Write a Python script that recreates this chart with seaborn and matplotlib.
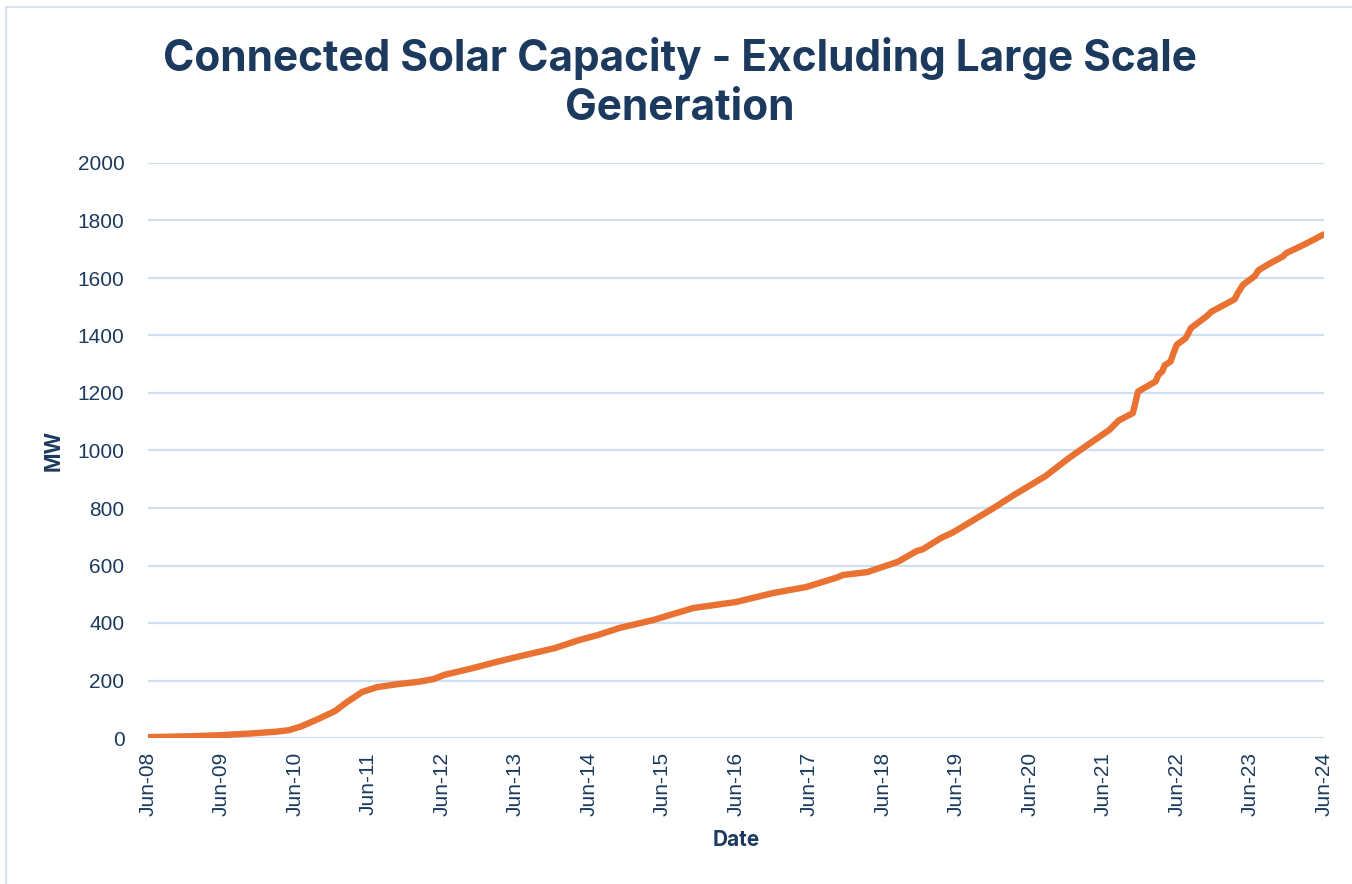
import matplotlib
matplotlib.use("Agg")
import matplotlib.pyplot as plt
import matplotlib.dates as mdates
from matplotlib.patches import Rectangle
import pandas as pd
import seaborn as sns

# Connected solar capacity (MW), excluding large scale generation
dates = [
    "2008-06-01", "2009-01-01", "2009-06-01", "2009-11-01", "2010-03-01",
    "2010-05-01", "2010-07-01", "2010-09-15", "2010-12-01", "2010-12-20",
    "2011-02-15", "2011-05-01", "2011-07-15", "2011-11-01", "2012-02-01",
    "2012-04-20", "2012-06-15", "2012-11-01", "2013-03-01", "2013-06-15",
    "2013-12-15", "2014-04-15", "2014-07-15", "2014-11-01", "2015-04-15",
    "2015-11-01", "2016-06-01", "2016-12-01", "2017-05-15", "2017-10-15",
    "2017-11-15", "2018-03-15", "2018-08-15", "2018-11-15", "2018-12-15",
    "2019-03-15", "2019-05-15", "2019-12-01", "2020-03-15", "2020-08-15",
    "2020-12-10", "2021-01-15", "2021-07-01", "2021-08-15", "2021-10-25",
    "2021-11-20", "2022-02-15", "2022-03-01", "2022-03-20", "2022-04-01",
    "2022-05-01", "2022-05-15", "2022-06-01", "2022-07-15", "2022-08-10",
    "2022-10-25", "2022-11-20", "2023-03-15", "2023-03-30", "2023-04-25",
    "2023-06-25", "2023-07-10", "2023-08-25", "2023-11-10", "2023-11-25",
    "2024-02-20", "2024-06-01",
]
capacity_mw = [
    3, 6, 10, 16, 22,
    27, 40, 63, 88, 95,
    125, 160, 177, 188, 195,
    205, 220, 243, 265, 283,
    313, 341, 358, 383, 410,
    452, 473, 504, 525, 558,
    567, 577, 613, 650, 656,
    695, 715, 799, 846, 910,
    973, 991, 1072, 1104, 1130,
    1205, 1240, 1263, 1275, 1296,
    1310, 1339, 1368, 1391, 1426,
    1466, 1483, 1526, 1547, 1576,
    1608, 1626, 1646, 1675, 1686,
    1715, 1752,
]
tick_years = list(range(2008, 2025))
y_ticks = list(range(0, 2001, 200))

title_text = "Connected Solar Capacity - Excluding Large Scale\nGeneration"
x_label = "Date"
y_label = "MW"

navy = "#1B3A5E"
orange = "#E97132"
grid_blue = "#CFE0F3"

df = pd.DataFrame({"Date": pd.to_datetime(dates), "MW": capacity_mw})

sns.set_style("white")
plt.rcParams["font.family"] = ["Liberation Sans", "DejaVu Sans"]

fig = plt.figure(figsize=(13.52, 8.84), dpi=100)
ax = fig.add_axes([148 / 1352, 1 - 738 / 884, (1324 - 148) / 1352, (738 - 163) / 884])

sns.lineplot(data=df, x="Date", y="MW", ax=ax, color=orange, linewidth=4.6,
             solid_capstyle="round", solid_joinstyle="round", zorder=3)

ax.set_ylim(0, 2000)
ax.set_yticks(y_ticks)
ax.set_xlim(pd.Timestamp("2008-06-01"), pd.Timestamp("2024-06-01"))
ax.set_xticks([pd.Timestamp(f"{y}-06-01") for y in tick_years])
ax.xaxis.set_major_formatter(mdates.DateFormatter("%b-%y"))

ax.grid(axis="y", color=grid_blue, linewidth=1.6)
ax.grid(axis="x", visible=False)
ax.set_axisbelow(True)
for s in ax.spines.values():
    s.set_visible(False)

ax.tick_params(axis="y", length=0, pad=17, labelsize=15, labelcolor=navy)
ax.tick_params(axis="x", length=0, pad=10, labelsize=15, labelcolor=navy,
               labelrotation=90)

ax.set_xlabel(x_label, fontsize=15, fontweight="bold", color=navy,
              family="Inter", labelpad=10)
ax.set_ylabel(y_label, fontsize=15, fontweight="bold", color=navy,
              family="Inter", labelpad=10)

fig.text(0.503, 0.906, title_text, ha="center", va="center", fontsize=30.5,
         fontweight="bold", color=navy, family="Inter", linespacing=1.23)

# thin frame around the chart area
fig.patches.append(Rectangle((6 / 1352, -0.1), 1.2, 1 - 7 / 884 + 0.1,
                             transform=fig.transFigure, fill=False,
                             edgecolor="#D6E3F1", linewidth=1.5))

fig.savefig("out.png", dpi=100)
